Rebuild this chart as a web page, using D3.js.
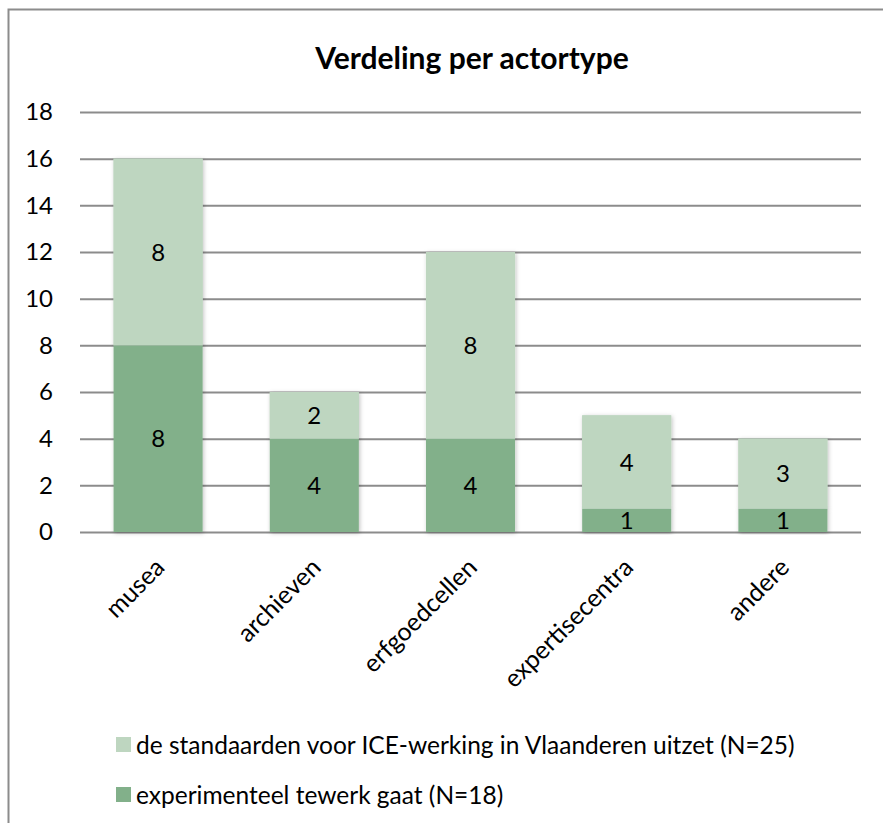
<!DOCTYPE html>
<html>
<head>
<meta charset="utf-8">
<script src="https://cdn.jsdelivr.net/npm/d3@7"></script>
<style>
  html, body { margin: 0; padding: 0; background: #fff; }
  svg { display: block; font-family: Lato, "Open Sans", sans-serif; }
</style>
</head>
<body>
<svg id="chart" width="883" height="823"></svg>
<script>
const title = "Verdeling per actortype";
const categories = ["musea", "archieven", "erfgoedcellen", "expertisecentra", "andere"];
const experimenteel = [8, 4, 4, 1, 1];
const standaarden = [8, 2, 8, 4, 3];
const seriesNames = [
  "experimenteel tewerk gaat (N=18)",
  "de standaarden voor ICE-werking in Vlaanderen uitzet (N=25)"
];
const yTicks = [0, 2, 4, 6, 8, 10, 12, 14, 16, 18];
const colors = ["#82b08a", "#bed6c0"];

const svg = d3.select("#chart");
const W = 883, H = 823;
const m = { left: 80, right: 22, top: 112, bottom: 291 };
const plotW = W - m.left - m.right;
const plotH = H - m.top - m.bottom;

// outer frame (left & top edges visible)
svg.append("path")
  .attr("d", `M8.5,${H} L8.5,9.5 L${W},9.5`)
  .attr("fill", "none").attr("stroke", "#8c8c8c").attr("stroke-width", 2);

// shadow filter
const defs = svg.append("defs");
const f = defs.append("filter").attr("id", "sh").attr("x", "-20%").attr("y", "-10%").attr("width", "140%").attr("height", "120%");
f.append("feDropShadow").attr("dx", 1).attr("dy", 1).attr("stdDeviation", 2).attr("flood-color", "#000").attr("flood-opacity", 0.25);

svg.append("text")
  .attr("x", 472).attr("y", 69)
  .attr("text-anchor", "middle")
  .attr("font-weight", "bold").attr("font-size", 30)
  .attr("fill", "#000")
  .text(title);

const g = svg.append("g").attr("transform", `translate(${m.left},${m.top})`);

const x = d3.scaleBand().domain(categories).range([0, plotW]).paddingInner(0.43).paddingOuter(0.215);
const y = d3.scaleLinear().domain([0, 18]).range([plotH, 0]);

// gridlines
g.append("g")
  .call(d3.axisLeft(y).tickValues(yTicks).tickSize(-plotW).tickFormat(""))
  .call(s => s.select(".domain").remove())
  .call(s => s.selectAll("line").attr("stroke", "#8c8c8c").attr("stroke-width", 2));

// y tick labels
g.append("g")
  .call(d3.axisLeft(y).tickValues(yTicks).tickSize(0).tickPadding(27))
  .call(s => s.select(".domain").remove())
  .call(s => s.selectAll("text").attr("font-size", 24).attr("fill", "#000").attr("font-family", "Lato, sans-serif"));

// stack
const rows = categories.map((c, i) => ({ cat: c, experimenteel: experimenteel[i], standaarden: standaarden[i] }));
const stack = d3.stack().keys(["experimenteel", "standaarden"])(rows);

const drawLayer = (layer, li, withShadow) => {
  g.append("g").selectAll("rect").data(layer).join("rect")
    .attr("x", d => x(d.data.cat))
    .attr("y", d => y(d[1]))
    .attr("width", x.bandwidth())
    .attr("height", d => y(d[0]) - y(d[1]))
    .attr("fill", colors[li])
    .attr("filter", withShadow ? "url(#sh)" : null);
};
drawLayer(stack[1], 1, true);
drawLayer(stack[0], 0, true);
drawLayer(stack[1], 1, false);

// value labels
stack.forEach(layer => {
  g.append("g").selectAll("text").data(layer).join("text")
    .attr("x", d => x(d.data.cat) + x.bandwidth() / 2)
    .attr("y", d => (y(d[0]) + y(d[1])) / 2)
    .attr("dy", "0.36em")
    .attr("text-anchor", "middle")
    .attr("font-size", 24)
    .attr("fill", "#000")
    .text(d => d[1] - d[0]);
});

// category labels
g.append("g").selectAll("text").data(categories).join("text")
  .attr("transform", c => `translate(${x(c) + x.bandwidth() / 2 + 8},${plotH + 37}) rotate(-45)`)
  .attr("text-anchor", "end")
  .attr("font-size", 25)
  .attr("fill", "#000")
  .text(c => c);

// legend
const legendItems = [
  { name: seriesNames[1], color: colors[1] },
  { name: seriesNames[0], color: colors[0] }
];
const lgd = svg.append("g").attr("transform", "translate(116,737)");
legendItems.forEach((it, i) => {
  const row = lgd.append("g").attr("transform", `translate(0,${i * 50})`);
  row.append("rect").attr("width", 15).attr("height", 15).attr("fill", it.color);
  row.append("text").attr("x", 20).attr("y", 8).attr("dy", "0.36em")
    .attr("font-size", 24.5).attr("fill", "#000").text(it.name);
});
</script>
</body>
</html>
